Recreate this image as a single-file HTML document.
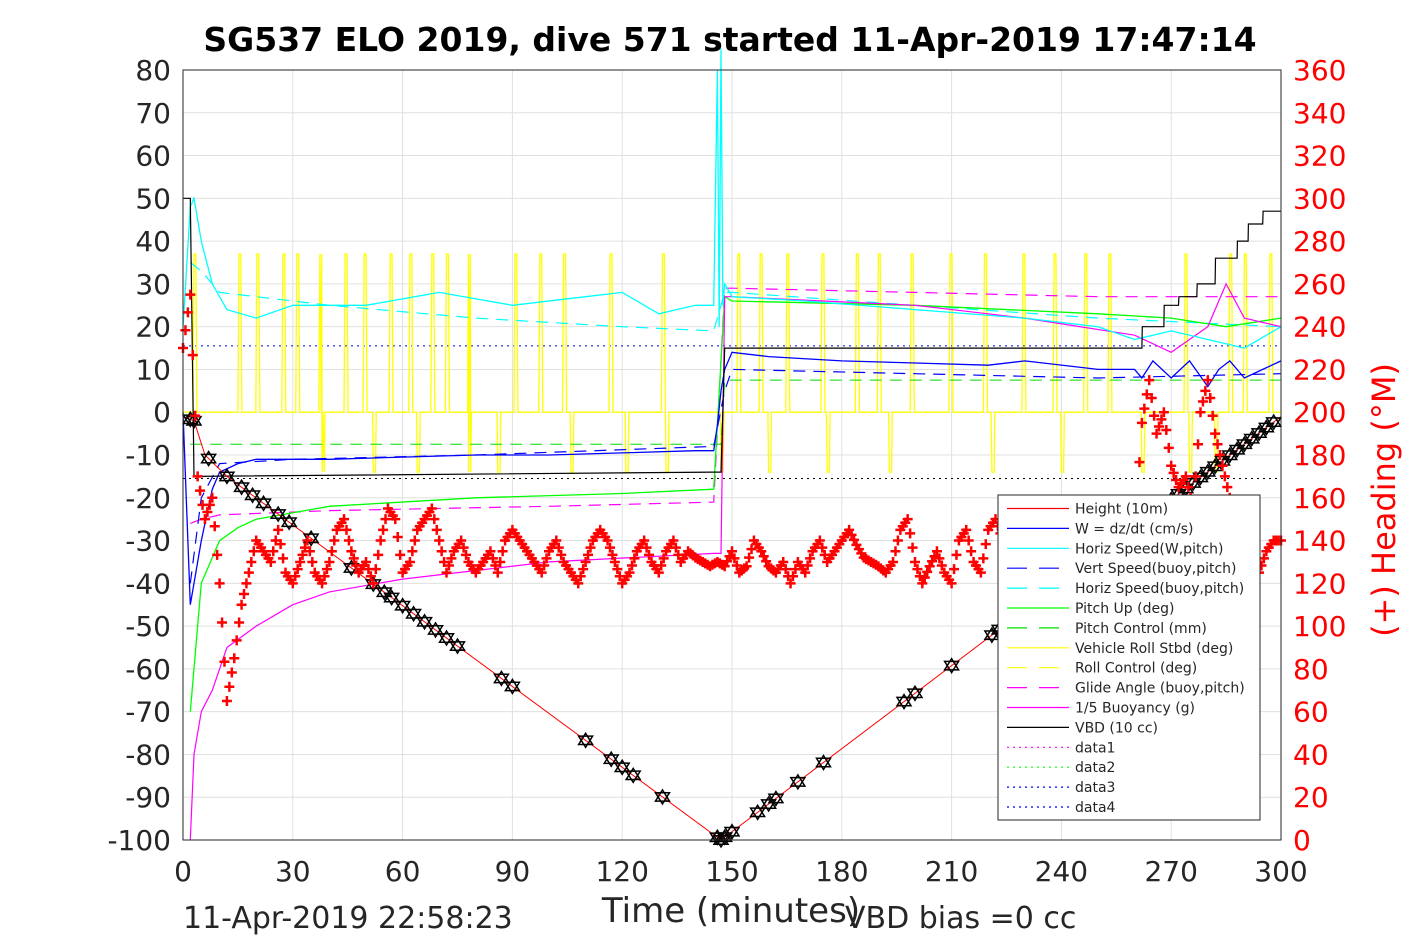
<!DOCTYPE html>
<html><head><meta charset="utf-8"><style>
body{margin:0;background:#fff;}
svg{display:block;font-family:"DejaVu Sans","Liberation Sans",sans-serif;}
</style></head><body>
<svg id="chart" width="1417" height="945">
<rect x="0" y="0" width="1417" height="945" fill="#fff"/>
<text x="730" y="51" text-anchor="middle" font-size="33" font-weight="bold">SG537 ELO 2019, dive 571 started 11-Apr-2019 17:47:14</text>
<g id="grid"></g>
<g id="series"></g>
<rect x="183" y="70" width="1098" height="770" fill="none" stroke="#262626" stroke-width="1"/>
<g id="axes"></g>
<text x="731" y="922" text-anchor="middle" font-size="34" fill="#262626">Time (minutes)</text>
<text x="183" y="928" font-size="30" fill="#262626">11-Apr-2019 22:58:23</text>
<text x="845" y="928" font-size="30" fill="#262626">VBD bias =0 cc</text>
<text transform="translate(1395,500) rotate(-90)" text-anchor="middle" font-size="32" fill="#f00">(+) Heading (°M)</text>
<g id="legend"></g>
</svg>
<script>
const xTicks=[0,30,60,90,120,150,180,210,240,270,300];
const yTicks=[80,70,60,50,40,30,20,10,0,-10,-20,-30,-40,-50,-60,-70,-80,-90,-100];
const hTicks=[0,20,40,60,80,100,120,140,160,180,200,220,240,260,280,300,320,340,360];
const heightT=[0,3,6,12,147,300];
const heightV=[-1,-2,-10,-15,-100,-1];
const markerT=[2,3,7,12,16,19,22,26,29,35,46,52,55,57,60,63,66,69,72,75,87,90,110,117,120,123,131,146,147,148,150,157,160,162,168,175,197,200,210,221,223,250,254,258,262,264,266,268,270,272,274,276,278,280,282,284,286,288,290,292,294,296,298];
const wT=[0,2,3,5,8,10,15,20,40,60,80,100,120,140,145,146,147,148,150,160,180,200,220,230,250,260,262,265,270,275,280,283,286,290,295,300];
const wV=[0,-45,-40,-30,-18,-14,-12,-11,-11,-10.5,-10,-10,-9.5,-9,-9,-3,5,10,14,13,12,11.5,11,12,10,10,8,12,8,12,6,10,12,8,10,12];
const hsT=[0,2,3,5,8,12,20,30,50,70,90,110,120,130,140,145,146,146.5,147,147.5,148,150,170,200,230,250,260,270,280,290,300];
const hsV=[20,48,50,40,30,24,22,25,25,28,25,27,28,23,25,25,80,20,85,25,30,27,26,24,22,20,17,19,17,15,20];
const vsT=[2,5,10,30,80,145,148,150,200,250,300];
const vsV=[-40,-20,-12,-11,-10,-8,5,10,9,8,9];
const hbT=[2,5,10,20,40,80,120,145,148,150,200,250,300];
const hbV=[35,33,28,27,25,22,20,19,28,28,25,22,20];
const puT=[2,5,10,15,20,40,80,120,145,148,150,200,250,270,285,300];
const puV=[-70,-40,-30,-27,-25,-22,-20,-19,-18,27,26,25,23,22,20,22];
const pcT=[2,147,148,300];
const pcV=[-7.5,-7.5,7.5,7.5];
const rollSpikes=[3,15.3,20.2,27.3,31.1,37.4,44.3,49.5,56.6,62,68,72,78,90.7,97.5,104,116.7,131,151.6,157.7,165,174.6,184,190,199,209.6,219,229.5,238,246.4,253,273.8,286,290,297];
const rollDips=[38,52,64,78,86,106,121,132,147,160,176,193,221,240,262,275,282];
const gaT=[2,5,10,40,100,145,148,150,200,250,300];
const gaV=[-26,-25,-24,-23,-22,-21,29,29,28,27,27];
const buT=[2,3,5,8,12,20,30,40,60,100,145,147,148,150,200,230,260,270,280,285,290,300];
const buV=[-100,-80,-70,-65,-55,-50,-45,-42,-39,-35,-33,-33,27,27,25,22,18,14,20,30,22,20];
const vbdT=[0,2,3,145,147,148,262,262.1,268,268.1,272,272.1,277,277.1,282,282.1,288,288.1,291,291.1,295,295.1,300];
const vbdV=[50,50,-15,-14,-14,15,15,20,20,25,25,27,27,30,30,36,36,40,40,44,44,47,47];
const headingT=[];for(let i=0;i<=150;i++)headingT.push(i*2);
const headingV=[230,255,170,150,160,120,65,85,110,125,140,135,130,145,125,120,130,140,125,120,130,145,150,135,125,130,120,140,155,150,125,130,145,150,155,140,125,135,140,130,125,130,135,125,140,145,140,135,130,125,135,140,130,125,120,130,140,145,140,130,120,125,135,140,130,125,135,140,130,135,132,130,128,130,128,135,125,128,140,135,128,125,130,120,130,125,135,140,130,135,140,145,138,132,130,128,125,130,145,150,130,120,128,135,125,120,140,145,130,125,145,150,140,135,145,150,140,135,130,140,145,135,130,140,150,145,140,135,130,135,140,195,215,190,200,175,165,170,155,200,215,190,175,160,150,145,130,125,135,140,140];
const dataLevels=[15.5,-15.5];

const X=t=>183+t*1098/300;
const Y=v=>70+(80-v)*770/180;
const YH=h=>840-h*770/360;
const NS="http://www.w3.org/2000/svg";
function mk(tag,attrs,parent){const e=document.createElementNS(NS,tag);for(const k in attrs)e.setAttribute(k,attrs[k]);parent.appendChild(e);return e;}
const grid=document.getElementById('grid'),ser=document.getElementById('series'),axes=document.getElementById('axes'),leg=document.getElementById('legend');
xTicks.forEach(t=>{const l=mk('line',{x1:X(t),x2:X(t),y1:70,y2:840,stroke:'#e0e0e0'},grid);

const tx=mk('text',{x:X(t),y:881,'text-anchor':'middle','font-size':28,fill:'#262626'},axes);tx.textContent=t;
});
yTicks.forEach(v=>{const l=mk('line',{x1:183,x2:1281,y1:Y(v),y2:Y(v),stroke:'#e0e0e0'},grid);

const tx=mk('text',{x:171,y:Y(v)+10,'text-anchor':'end','font-size':28,fill:'#262626'},axes);tx.textContent=v;
});
hTicks.forEach(h=>{const tx=mk('text',{x:1293,y:YH(h)+10,'font-size':28,fill:'#f00'},axes);tx.textContent=h;
});
function line(T,V,color,dash,w,name){const pts=T.map((t,i)=>X(t).toFixed(1)+','+Y(V[i]).toFixed(1)).join(' ');
const p=mk('polyline',{points:pts,fill:'none',stroke:color,'stroke-width':w||1.3,'stroke-dasharray':dash||'none'},ser);
}
const rT=[0],rV=[0];
rollSpikes.forEach(s=>{rT.push(s-0.3,s,s+0.5,s+0.8);rV.push(0,37,37,0);});
const rolls=rT.map((t,i)=>[t,rV[i]]);
rollDips.forEach(s=>{rolls.push([s-0.2,0],[s,-14],[s+0.6,-14],[s+0.8,0]);});
rolls.push([300,0]);rolls.sort((a,b)=>a[0]-b[0]);
dataLevels.forEach((d,i)=>{const l=mk('line',{x1:183,x2:1281,y1:Y(d),y2:Y(d),stroke:i?'#000':'#00f','stroke-dasharray':'2 4'},ser);
});
line(rolls.map(r=>r[0]),rolls.map(r=>r[1]),'#ff0',null,1.3,'vehicle-roll-line');
line(pcT,pcV,'#0d0','12 8',1,'pitch-control-line');
line(gaT,gaV,'#f0f','12 8',1.2,'glide-angle-line');
line(hbT,hbV,'#0ff','12 8',1.2,'horiz-speed-buoy-line');
line(vsT,vsV,'#00f','12 8',1.2,'vert-speed-buoy-line');
line(puT,puV,'#0f0',null,1.3,'pitch-up-line');
line(buT,buV,'#f0f',null,1.2,'buoyancy-line');
line(hsT,hsV,'#0ff',null,1.3,'horiz-speed-line');
line(wT,wV,'#00f',null,1.3,'w-line');
line(vbdT,vbdV,'#000',null,1.2,'vbd-line');
line(heightT,heightV,'#f00',null,1,'height-line');
function heightAt(t){for(let i=1;i<heightT.length;i++){if(t<=heightT[i]){const f=(t-heightT[i-1])/(heightT[i]-heightT[i-1]);return heightV[i-1]+f*(heightV[i]-heightV[i-1]);}}return heightV[heightV.length-1];}
markerT.forEach(t=>{const x=X(t),y=Y(heightAt(t));const s=7;
const p=mk('path',{d:`M${x-s},${y+s*0.6}L${x+s},${y+s*0.6}L${x},${y-s}Z M${x-s},${y-s*0.6}L${x+s},${y-s*0.6}L${x},${y+s}Z`,fill:'none',stroke:'#000','stroke-width':1.5},ser);
});
headingT.forEach((t,i)=>{const x=X(t),y=YH(headingV[i]);
const p=mk('path',{d:`M${x-5},${y}H${x+5}M${x},${y-5}V${y+5}`,stroke:'#f00','stroke-width':2.5},ser);

if(i>0){const x0=X(headingT[i-1]),y0=YH(headingV[i-1]);const n=3;for(let k=1;k<n;k++){const xx=x0+(x-x0)*k/n,yy=y0+(y-y0)*k/n;
const q=mk('path',{d:`M${xx-5},${yy}H${xx+5}M${xx},${yy-5}V${yy+5}`,stroke:'#f00','stroke-width':2.5},ser);
}}});
const box=mk('rect',{x:998,y:495,width:262,height:325,fill:'#fff',stroke:'#262626'},leg);

const items=[['Height (10m)','#f00',''],['W = dz/dt (cm/s)','#00f',''],['Horiz Speed(W,pitch)','#0ff',''],['Vert Speed(buoy,pitch)','#00f','20 12'],['Horiz Speed(buoy,pitch)','#0ff','20 12'],['Pitch Up (deg)','#0f0',''],['Pitch Control (mm)','#0d0','20 12'],['Vehicle Roll Stbd (deg)','#ff0',''],['Roll Control (deg)','#ff0','20 12'],['Glide Angle (buoy,pitch)','#f0f','20 12'],['1/5 Buoyancy (g)','#f0f',''],['VBD (10 cc)','#000',''],['data1','#f0f','2 4'],['data2','#0f0','2 4'],['data3','#00f','2 4'],['data4','#00f','2 4']];
items.forEach((it,i)=>{const y=508.5+i*19.9;
const g=mk('g',{},leg);
mk('line',{x1:1007,x2:1069,y1:y,y2:y,stroke:it[1],'stroke-width':1.2,'stroke-dasharray':it[2]||'none'},g);
const tx=mk('text',{x:1075,y:y+5,'font-size':14,fill:'#262626'},g);tx.textContent=it[0];});
</script>
</body></html>
